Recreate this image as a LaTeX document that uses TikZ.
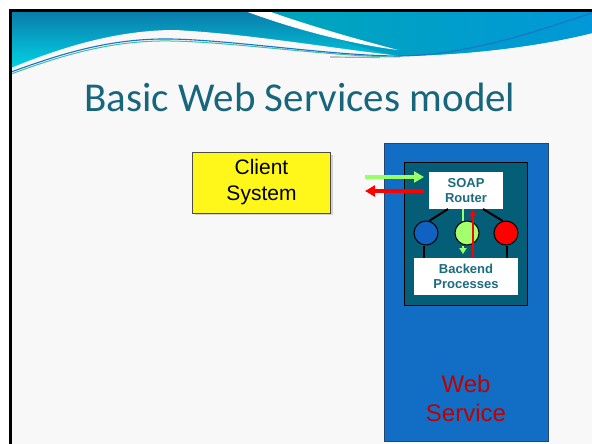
\documentclass[tikz,border=0pt]{standalone}
\usepackage{fontspec}
\setmainfont{Liberation Sans}
\newfontfamily\titlefont{Carlito}
\usetikzlibrary{arrows.meta,calc}

\definecolor{slidebg}{HTML}{F8F8F8}
\definecolor{bandtop}{HTML}{0A7BAA}
\definecolor{bandbot}{HTML}{00D9E8}
\definecolor{bandright}{HTML}{0098D8}
\definecolor{bandrighttop}{HTML}{00A6BA}
\definecolor{waveline}{HTML}{1E74C4}
\definecolor{wavegreen}{HTML}{3CC4A8}
\definecolor{titleteal}{HTML}{17667B}
\definecolor{clientyellow}{HTML}{FFF71A}
\definecolor{wsblue}{HTML}{116EC4}
\definecolor{wsedge}{HTML}{24466E}
\definecolor{wsred}{HTML}{C00000}
\definecolor{innerteal}{HTML}{045E78}
\definecolor{labelteal}{HTML}{1B6C80}
\definecolor{procblue}{HTML}{1062C2}
\definecolor{procgreen}{HTML}{A2FF6E}
\definecolor{flowgreen}{HTML}{99FF66}
\definecolor{flowred}{HTML}{FF0000}

\tikzset{
  panel/.style={draw, inner sep=0pt, outer sep=0pt, anchor=north west},
  whitebox/.style={panel, fill=white, draw=none, align=center,
    text=labelteal, font=\bfseries\fontsize{13}{15.5}\selectfont},
  proc/.style={circle, draw=black, line width=1pt, minimum size=24pt, inner sep=0pt},
  wire/.style={line width=2pt, black},
  flow/.style={line width=3.4pt, -{Triangle[length=10pt,width=11pt]}},
  innerflow/.style={line width=2.2pt, -{Triangle[length=6pt,width=7pt]}},
}

\begin{document}
\begin{tikzpicture}[x=1pt,y=-1pt]
\useasboundingbox (0,0) rectangle (592,444);

% page and slide surface
\fill[white] (0,0) rectangle (592,444);
\fill[slidebg] (11,11) rectangle (592,444);

% header band
\begin{scope}
  \clip (11,11) rectangle (592,444);
  \shade[top color=bandtop, bottom color=bandbot]
    (11,11) -- (592,11) -- (592,33)
    .. controls (540,46) and (470,55) .. (400,56)
    .. controls (330,56) and (220,38) .. (160,39)
    .. controls (100,40) and (50,58) .. (11,72) -- cycle;
  % right part of the band
  \shade[left color=bandrighttop, right color=bandright]
    (262,11) -- (592,11) -- (592,33)
    .. controls (540,46) and (470,55) .. (400,56)
    .. controls (360,50) and (310,30) .. (262,11) -- cycle;
  % white gap under the left band
  \fill[slidebg]
    (11,72) .. controls (50,58) and (100,40) .. (160,39)
    .. controls (220,38) and (330,56) .. (400,56)
    .. controls (330,48) and (250,34) .. (175,30)
    .. controls (110,30) and (50,52) .. (11,68) -- cycle;
  % white swoosh
  \fill[white]
    (245,11) -- (268,11)
    .. controls (310,26) and (360,40) .. (398,50)
    .. controls (350,44) and (290,28) .. (245,11) -- cycle;
  % thin wave lines
  \draw[wavegreen, line width=1pt]
    (11,74) .. controls (50,60) and (100,42) .. (160,41)
    .. controls (220,40) and (330,57) .. (400,57);
  \draw[waveline, line width=1.1pt]
    (11,72) .. controls (50,58) and (100,40) .. (160,39)
    .. controls (220,38) and (330,56) .. (400,56)
    .. controls (470,55) and (540,30) .. (592,13);
  \draw[gray!70, line width=1.2pt] (330,57) -- (380,57.5);
\end{scope}

% slide frame
\draw[black, line width=2.6pt] (10.7,444) -- (10.7,10.7) -- (592,10.7);

% title
\node[font=\titlefont\fontsize{41}{46}\selectfont, text=titleteal, anchor=base]
  (title) at (300,111) {Basic Web Services model};

% client system
\fill[gray!35] (195,155) rectangle (333,215);
\node[panel, fill=clientyellow, draw=gray!60!black, line width=0.8pt,
  minimum width=138pt, minimum height=61pt, align=center,
  font=\fontsize{21}{26}\selectfont] (client) at (192.5,152) {Client\\System};

% web service container
\node[panel, fill=wsblue, draw=wsedge, line width=1pt,
  minimum width=164pt, minimum height=298pt] (ws) at (384,143) {};
\node[text=wsred, align=center, font=\fontsize{24}{29}\selectfont]
  (wslabel) at (466,398) {Web\\Service};

% inner engine
\node[panel, fill=innerteal, draw=black, line width=1pt,
  minimum width=123pt, minimum height=143pt] (inner) at (404,162) {};
\node[whitebox, minimum width=74pt, minimum height=37pt] (router) at (429,172) {SOAP\\Router};
\node[whitebox, minimum width=104pt, minimum height=37pt] (backend) at (414,258) {Backend\\Processes};

% processes
\node[proc, fill=procblue] (cb) at (426,233) {};
\node[proc, fill=procgreen] (cg) at (467,233) {};
\node[proc, fill=flowred] (cr) at (506,233) {};

% links from the router to the processes and on to the backend
\draw[wire] ([xshift=19pt]router.south west) -- (cb.75);
\draw[wire] ([xshift=-20pt]router.south east) -- (cr.105);
\draw[wire] ([xshift=-2pt]cb.south) -- ([xshift=-2pt]cb.south |- backend.north);
\draw[wire] ([xshift=1pt]cr.south) -- ([xshift=1pt]cr.south |- backend.north);

% downward flow, passing behind the middle process
\draw[flowgreen, line width=2.2pt] ([xshift=34pt]router.south west) -- ([xshift=-4pt]cg.north);
\draw[innerflow, flowgreen] ([xshift=-4pt]cg.south) -- ([xshift=49pt,yshift=4pt]backend.north west);

% upward flow, passing in front of the middle process
\draw[innerflow, flowred] ([xshift=59pt]backend.north west) -- ([xshift=44pt,yshift=-1pt]router.south west);

% request and response between client and service
\coordinate (reqtail) at (365,177);
\coordinate (resptip) at (365,191);
\draw[flow, flowgreen] (reqtail) -- ($(router.north west)+(-5,5)$);
\draw[flow, flowred] ($(router.north west)+(-5,19)$) -- (resptip);
\end{tikzpicture}
\end{document}
